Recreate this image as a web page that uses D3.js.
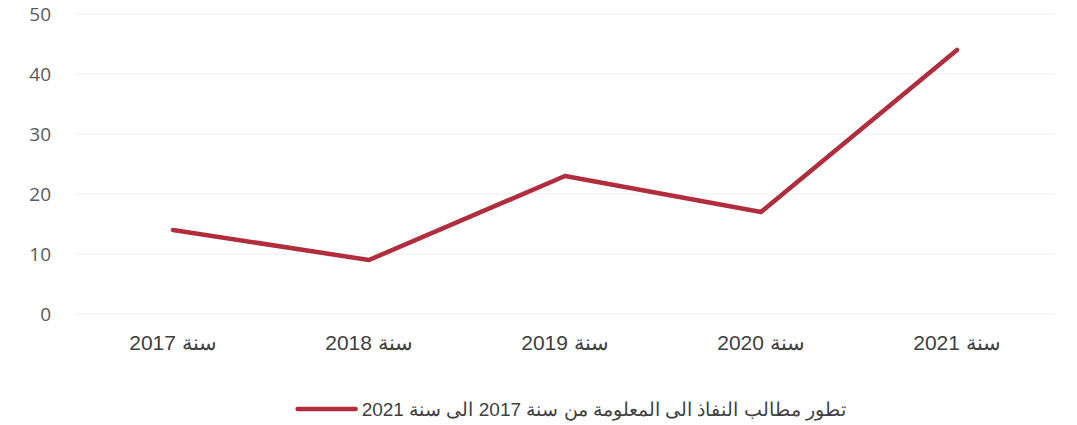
<!DOCTYPE html>
<html><head><meta charset="utf-8">
<script src="https://cdn.jsdelivr.net/npm/d3@7"></script>
<style>body{margin:0;background:#fff;} svg{display:block;}</style>
</head><body>
<svg id="chart" width="1077" height="425"></svg>
<script>
const categories = ["سنة 2017","سنة 2018","سنة 2019","سنة 2020","سنة 2021"];
const values = [14, 9, 23, 17, 44];
const yTicks = [0,10,20,30,40,50];
const seriesName = "تطور مطالب النفاذ الى المعلومة من سنة 2017 الى سنة 2021";

const svg = d3.select("#chart");
const mLeft = 75, mRight = 1055, mTop = 14, mBottom = 314;
const x = d3.scaleBand().domain(categories).range([mLeft, mRight]);
const y = d3.scaleLinear().domain([0, 50]).range([mBottom, mTop]);
const color = "#b12d3d";

// gridlines
svg.append("g").selectAll("line").data(yTicks).join("line")
  .attr("x1", mLeft).attr("x2", mRight)
  .attr("y1", d => y(d)).attr("y2", d => y(d))
  .attr("stroke", "#f0f0f0").attr("stroke-width", 1);

// y axis
const yAxis = svg.append("g").attr("transform", `translate(${mLeft},0)`)
  .call(d3.axisLeft(y).tickValues(yTicks).tickSize(0).tickPadding(24));
yAxis.select(".domain").remove();
yAxis.selectAll("text").attr("font-family", "Open Sans, sans-serif")
  .attr("font-size", 19).attr("fill", "#595959");

// x axis
const xAxis = svg.append("g").attr("transform", `translate(0,${mBottom})`)
  .call(d3.axisBottom(x).tickSize(0).tickPadding(21));
xAxis.select(".domain").remove();
xAxis.selectAll("text").attr("font-family", "Liberation Sans, Arial, sans-serif")
  .attr("font-size", 21).attr("fill", "#404040").attr("direction", "rtl");

// line
const line = d3.line().x((d, i) => x(categories[i]) + x.bandwidth() / 2).y(d => y(d));
svg.append("path").datum(values).attr("d", line)
  .attr("fill", "none").attr("stroke", color).attr("stroke-width", 4.5)
  .attr("stroke-linejoin", "round").attr("stroke-linecap", "round");

// legend
const lg = svg.append("g");
const legText = lg.append("text").attr("x", 846).attr("y", 416)
  .attr("direction", "rtl").attr("text-anchor", "start")
  .attr("font-family", "Liberation Sans, Arial, sans-serif")
  .attr("font-size", 19).attr("fill", "#404040").text(seriesName);
const tw = legText.node().getComputedTextLength();
const lineEnd = 846 - tw - 6;
lg.append("line").attr("x1", lineEnd - 58).attr("x2", lineEnd).attr("y1", 409).attr("y2", 409)
  .attr("stroke", color).attr("stroke-width", 4.5).attr("stroke-linecap", "round");
</script>
</body></html>
